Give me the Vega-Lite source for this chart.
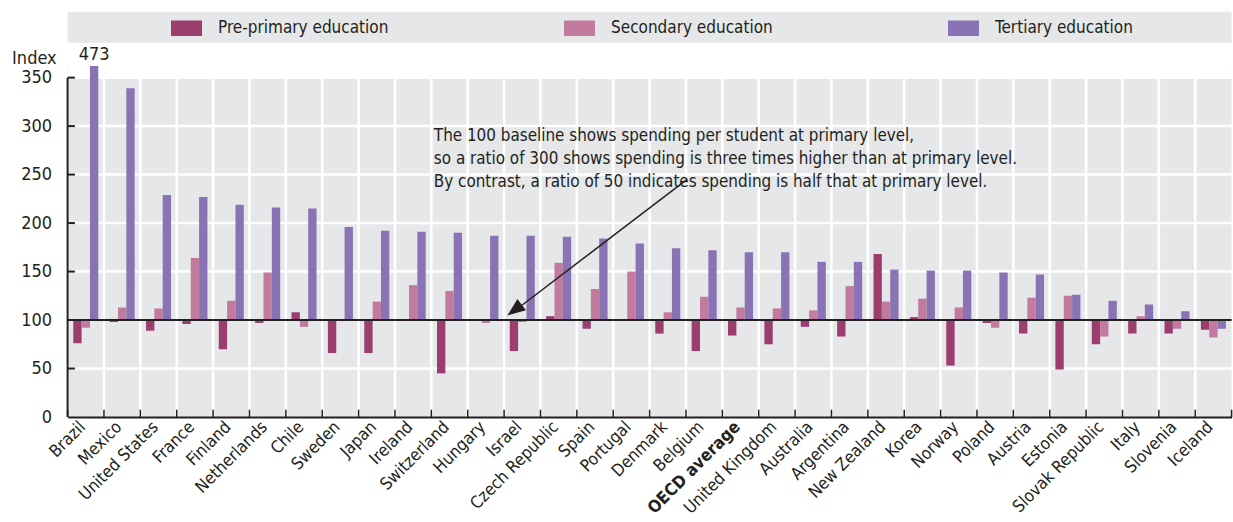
{
  "$schema": "https://vega.github.io/schema/vega-lite/v6.json",
  "width": 1164,
  "height": 351,
  "autosize": {"type": "none"},
  "padding": {"left": 67.6, "top": 66, "right": 1.4, "bottom": 105},
  "background": "white",
  "config": {
    "view": {"fill": "#e6e7e8", "stroke": null},
    "font": "Liberation Sans Narrow, DejaVu Sans Condensed, Liberation Sans, sans-serif",
    "text": {"color": "#231f20"}
  },
  "datasets": {
    "main": [
      {"country": "Brazil", "level": "Pre-primary education", "value": 76},
      {"country": "Brazil", "level": "Secondary education", "value": 92},
      {"country": "Brazil", "level": "Tertiary education", "value": 473},
      {"country": "Mexico", "level": "Pre-primary education", "value": 98},
      {"country": "Mexico", "level": "Secondary education", "value": 113},
      {"country": "Mexico", "level": "Tertiary education", "value": 339},
      {"country": "United States", "level": "Pre-primary education", "value": 89},
      {"country": "United States", "level": "Secondary education", "value": 112},
      {"country": "United States", "level": "Tertiary education", "value": 229},
      {"country": "France", "level": "Pre-primary education", "value": 96},
      {"country": "France", "level": "Secondary education", "value": 164},
      {"country": "France", "level": "Tertiary education", "value": 227},
      {"country": "Finland", "level": "Pre-primary education", "value": 70},
      {"country": "Finland", "level": "Secondary education", "value": 120},
      {"country": "Finland", "level": "Tertiary education", "value": 219},
      {"country": "Netherlands", "level": "Pre-primary education", "value": 97},
      {"country": "Netherlands", "level": "Secondary education", "value": 149},
      {"country": "Netherlands", "level": "Tertiary education", "value": 216},
      {"country": "Chile", "level": "Pre-primary education", "value": 108},
      {"country": "Chile", "level": "Secondary education", "value": 93},
      {"country": "Chile", "level": "Tertiary education", "value": 215},
      {"country": "Sweden", "level": "Pre-primary education", "value": 66},
      {"country": "Sweden", "level": "Secondary education", "value": 101},
      {"country": "Sweden", "level": "Tertiary education", "value": 196},
      {"country": "Japan", "level": "Pre-primary education", "value": 66},
      {"country": "Japan", "level": "Secondary education", "value": 119},
      {"country": "Japan", "level": "Tertiary education", "value": 192},
      {"country": "Ireland", "level": "Secondary education", "value": 136},
      {"country": "Ireland", "level": "Tertiary education", "value": 191},
      {"country": "Switzerland", "level": "Pre-primary education", "value": 45},
      {"country": "Switzerland", "level": "Secondary education", "value": 130},
      {"country": "Switzerland", "level": "Tertiary education", "value": 190},
      {"country": "Hungary", "level": "Pre-primary education", "value": 101},
      {"country": "Hungary", "level": "Secondary education", "value": 97},
      {"country": "Hungary", "level": "Tertiary education", "value": 187},
      {"country": "Israel", "level": "Pre-primary education", "value": 68},
      {"country": "Israel", "level": "Secondary education", "value": 98},
      {"country": "Israel", "level": "Tertiary education", "value": 187},
      {"country": "Czech Republic", "level": "Pre-primary education", "value": 104},
      {"country": "Czech Republic", "level": "Secondary education", "value": 159},
      {"country": "Czech Republic", "level": "Tertiary education", "value": 186},
      {"country": "Spain", "level": "Pre-primary education", "value": 91},
      {"country": "Spain", "level": "Secondary education", "value": 132},
      {"country": "Spain", "level": "Tertiary education", "value": 184},
      {"country": "Portugal", "level": "Secondary education", "value": 150},
      {"country": "Portugal", "level": "Tertiary education", "value": 179},
      {"country": "Denmark", "level": "Pre-primary education", "value": 86},
      {"country": "Denmark", "level": "Secondary education", "value": 108},
      {"country": "Denmark", "level": "Tertiary education", "value": 174},
      {"country": "Belgium", "level": "Pre-primary education", "value": 68},
      {"country": "Belgium", "level": "Secondary education", "value": 124},
      {"country": "Belgium", "level": "Tertiary education", "value": 172},
      {"country": "OECD average", "level": "Pre-primary education", "value": 84},
      {"country": "OECD average", "level": "Secondary education", "value": 113},
      {"country": "OECD average", "level": "Tertiary education", "value": 170},
      {"country": "United Kingdom", "level": "Pre-primary education", "value": 75},
      {"country": "United Kingdom", "level": "Secondary education", "value": 112},
      {"country": "United Kingdom", "level": "Tertiary education", "value": 170},
      {"country": "Australia", "level": "Pre-primary education", "value": 93},
      {"country": "Australia", "level": "Secondary education", "value": 110},
      {"country": "Australia", "level": "Tertiary education", "value": 160},
      {"country": "Argentina", "level": "Pre-primary education", "value": 83},
      {"country": "Argentina", "level": "Secondary education", "value": 135},
      {"country": "Argentina", "level": "Tertiary education", "value": 160},
      {"country": "New Zealand", "level": "Pre-primary education", "value": 168},
      {"country": "New Zealand", "level": "Secondary education", "value": 119},
      {"country": "New Zealand", "level": "Tertiary education", "value": 152},
      {"country": "Korea", "level": "Pre-primary education", "value": 103},
      {"country": "Korea", "level": "Secondary education", "value": 122},
      {"country": "Korea", "level": "Tertiary education", "value": 151},
      {"country": "Norway", "level": "Pre-primary education", "value": 53},
      {"country": "Norway", "level": "Secondary education", "value": 113},
      {"country": "Norway", "level": "Tertiary education", "value": 151},
      {"country": "Poland", "level": "Pre-primary education", "value": 97},
      {"country": "Poland", "level": "Secondary education", "value": 92},
      {"country": "Poland", "level": "Tertiary education", "value": 149},
      {"country": "Austria", "level": "Pre-primary education", "value": 86},
      {"country": "Austria", "level": "Secondary education", "value": 123},
      {"country": "Austria", "level": "Tertiary education", "value": 147},
      {"country": "Estonia", "level": "Pre-primary education", "value": 49},
      {"country": "Estonia", "level": "Secondary education", "value": 125},
      {"country": "Estonia", "level": "Tertiary education", "value": 126},
      {"country": "Slovak Republic", "level": "Pre-primary education", "value": 75},
      {"country": "Slovak Republic", "level": "Secondary education", "value": 83},
      {"country": "Slovak Republic", "level": "Tertiary education", "value": 120},
      {"country": "Italy", "level": "Pre-primary education", "value": 86},
      {"country": "Italy", "level": "Secondary education", "value": 104},
      {"country": "Italy", "level": "Tertiary education", "value": 116},
      {"country": "Slovenia", "level": "Pre-primary education", "value": 86},
      {"country": "Slovenia", "level": "Secondary education", "value": 91},
      {"country": "Slovenia", "level": "Tertiary education", "value": 109},
      {"country": "Iceland", "level": "Pre-primary education", "value": 90},
      {"country": "Iceland", "level": "Secondary education", "value": 82},
      {"country": "Iceland", "level": "Tertiary education", "value": 91}
    ],
    "one": [{}]
  },
  "data": {"name": "main"},
  "layer": [
    {
      "data": {"name": "one"},
      "mark": {"type": "rect", "color": "white"},
      "encoding": {"y": {"datum": 350, "type": "quantitative"}, "y2": {"datum": 362}}
    },
    {
      "data": {"name": "one"},
      "mark": {"type": "rect", "color": "#e6e7e8", "clip": false},
      "encoding": {"y": {"datum": 386, "type": "quantitative"}, "y2": {"datum": 418}}
    },
    {"data": {"name": "one"}, "mark": {"type": "rule", "color": "white", "strokeWidth": 2.5}, "encoding": {"y": {"datum": 50, "type": "quantitative"}}},
    {"data": {"name": "one"}, "mark": {"type": "rule", "color": "white", "strokeWidth": 2.5}, "encoding": {"y": {"datum": 150, "type": "quantitative"}}},
    {"data": {"name": "one"}, "mark": {"type": "rule", "color": "white", "strokeWidth": 2.5}, "encoding": {"y": {"datum": 200, "type": "quantitative"}}},
    {"data": {"name": "one"}, "mark": {"type": "rule", "color": "white", "strokeWidth": 2.5}, "encoding": {"y": {"datum": 250, "type": "quantitative"}}},
    {"data": {"name": "one"}, "mark": {"type": "rule", "color": "white", "strokeWidth": 2.5}, "encoding": {"y": {"datum": 300, "type": "quantitative"}}},
    {"data": {"name": "one"}, "mark": {"type": "rule", "color": "white", "strokeWidth": 2.5}, "encoding": {"y": {"datum": 350, "type": "quantitative"}}},
    {
      "transform": [{"filter": "datum.level === 'Tertiary education'"}],
      "mark": {"type": "rule", "color": "white", "strokeWidth": 2.5},
      "encoding": {
        "x": {"field": "country", "type": "nominal", "sort": null, "bandPosition": 0},
        "y": {"datum": 0, "type": "quantitative"},
        "y2": {"datum": 350}
      }
    },
    {
      "mark": {"type": "bar", "clip": true},
      "encoding": {
        "x": {
          "field": "country",
          "type": "nominal",
          "sort": null,
          "scale": {"paddingInner": 0, "paddingOuter": 0},
          "axis": {
            "title": null,
            "labelAngle": -45,
            "labelAlign": "right",
            "labelBaseline": "middle",
            "labelFontSize": 17,
            "labelColor": "#231f20",
            "labelFontWeight": {"condition": {"test": "datum.value === 'OECD average'", "value": "bold"}, "value": "normal"},
            "labelOffset": -3,
            "ticks": false,
            "labelPadding": 7,
            "grid": false,
            "domain": true,
            "domainColor": "#231f20",
            "domainWidth": 2,
            "zindex": 1
          }
        },
        "xOffset": {
          "field": "level",
          "type": "nominal",
          "scale": {"paddingInner": 0, "paddingOuter": 0.68}
        },
        "y": {
          "field": "value",
          "type": "quantitative",
          "scale": {"domain": [0, 362], "nice": false, "zero": true},
          "axis": {
            "values": [0, 50, 100, 150, 200, 250, 300, 350],
            "title": "Index",
            "titleAngle": 0,
            "titleAlign": "left",
            "titleBaseline": "middle",
            "titleX": -56,
            "titleY": -8,
            "titleFontSize": 18,
            "titleFontWeight": "normal",
            "titleColor": "#231f20",
            "labelFontSize": 18,
            "labelColor": "#231f20",
            "labelPadding": 16,
            "ticks": false,
            "domain": false,
            "grid": false,
            "zindex": 1
          }
        },
        "y2": {"datum": 100},
        "color": {
          "field": "level",
          "type": "nominal",
          "scale": {
            "domain": ["Pre-primary education", "Secondary education", "Tertiary education"],
            "range": ["#9c3d70", "#c27a9f", "#8973b5"]
          },
          "legend": {
            "title": null,
            "orient": "none",
            "direction": "horizontal",
            "legendX": 103.4,
            "legendY": -53.5,
            "symbolType": "M-1,-0.5H1V0.5H-1Z",
            "symbolSize": 961,
            "symbolStrokeWidth": 0,
            "symbolOpacity": 1,
            "labelFontSize": 17,
            "labelColor": "#231f20",
            "labelOffset": 16,
            "columnPadding": 175,
            "labelLimit": 400,
            "padding": 0
          }
        }
      }
    },
    {
      "transform": [{"filter": "datum.level === 'Tertiary education'"}],
      "mark": {"type": "rule", "color": "#231f20", "strokeWidth": 1.5},
      "encoding": {
        "x": {"field": "country", "type": "nominal", "sort": null, "bandPosition": 0},
        "y": {"datum": 0, "type": "quantitative"},
        "y2": {"datum": 7.5}
      }
    },
    {
      "transform": [{"filter": "datum.country === 'Iceland' && datum.level === 'Tertiary education'"}],
      "mark": {"type": "rule", "color": "#231f20", "strokeWidth": 1.5},
      "encoding": {
        "x": {"field": "country", "type": "nominal", "sort": null, "bandPosition": 1},
        "y": {"datum": 0, "type": "quantitative"},
        "y2": {"datum": 7.5}
      }
    },
    {"data": {"name": "one"}, "mark": {"type": "rule", "color": "#231f20", "strokeWidth": 2}, "encoding": {"x": {"datum": "Brazil", "type": "nominal", "bandPosition": 0}, "x2": {"datum": "Brazil", "bandPosition": 0.2}, "y": {"datum": 50, "type": "quantitative"}}},
    {"data": {"name": "one"}, "mark": {"type": "rule", "color": "#231f20", "strokeWidth": 2}, "encoding": {"x": {"datum": "Brazil", "type": "nominal", "bandPosition": 0}, "x2": {"datum": "Brazil", "bandPosition": 0.2}, "y": {"datum": 150, "type": "quantitative"}}},
    {"data": {"name": "one"}, "mark": {"type": "rule", "color": "#231f20", "strokeWidth": 2}, "encoding": {"x": {"datum": "Brazil", "type": "nominal", "bandPosition": 0}, "x2": {"datum": "Brazil", "bandPosition": 0.2}, "y": {"datum": 200, "type": "quantitative"}}},
    {"data": {"name": "one"}, "mark": {"type": "rule", "color": "#231f20", "strokeWidth": 2}, "encoding": {"x": {"datum": "Brazil", "type": "nominal", "bandPosition": 0}, "x2": {"datum": "Brazil", "bandPosition": 0.2}, "y": {"datum": 250, "type": "quantitative"}}},
    {"data": {"name": "one"}, "mark": {"type": "rule", "color": "#231f20", "strokeWidth": 2}, "encoding": {"x": {"datum": "Brazil", "type": "nominal", "bandPosition": 0}, "x2": {"datum": "Brazil", "bandPosition": 0.2}, "y": {"datum": 300, "type": "quantitative"}}},
    {"data": {"name": "one"}, "mark": {"type": "rule", "color": "#231f20", "strokeWidth": 2}, "encoding": {"x": {"datum": "Brazil", "type": "nominal", "bandPosition": 0}, "x2": {"datum": "Brazil", "bandPosition": 0.2}, "y": {"datum": 350, "type": "quantitative"}}},
    {
      "data": {"name": "one"},
      "mark": {"type": "rule", "color": "#231f20", "strokeWidth": 2},
      "encoding": {"y": {"datum": 100, "type": "quantitative"}}
    },
    {
      "transform": [{"filter": "datum.country === 'Brazil' && datum.level === 'Tertiary education'"}],
      "mark": {"type": "rule", "color": "#231f20", "strokeWidth": 2},
      "encoding": {
        "x": {"field": "country", "type": "nominal", "sort": null, "bandPosition": 0},
        "y": {"datum": 0, "type": "quantitative"},
        "y2": {"datum": 350}
      }
    },
    {
      "transform": [{"filter": "datum.value > 362"}],
      "mark": {"type": "text", "fontSize": 18, "baseline": "alphabetic", "dy": -6, "color": "#231f20"},
      "encoding": {
        "x": {"field": "country", "type": "nominal", "sort": null},
        "xOffset": {"field": "level", "type": "nominal"},
        "y": {"datum": 362, "type": "quantitative"},
        "text": {"field": "value", "type": "quantitative"}
      }
    },
    {
      "data": {"name": "one"},
      "mark": {
        "type": "text",
        "align": "left",
        "baseline": "middle",
        "fontSize": 16.9,
        "lineHeight": 23,
        "dx": 2.5,
        "color": "#231f20",
        "text": [
          "The 100 baseline shows spending per student at primary level,",
          "so a ratio of 300 shows spending is three times higher than at primary level.",
          "By contrast, a ratio of 50 indicates spending is half that at primary level."
        ]
      },
      "encoding": {
        "x": {"datum": "Switzerland", "type": "nominal", "bandPosition": 0},
        "y": {"datum": 290, "type": "quantitative"}
      }
    },
    {
      "data": {"name": "one"},
      "mark": {"type": "rule", "color": "#231f20", "strokeWidth": 1.5},
      "encoding": {
        "x": {"datum": "Belgium", "type": "nominal", "bandPosition": 0.03},
        "x2": {"datum": "Israel", "bandPosition": 0.48},
        "y": {"datum": 245, "type": "quantitative"},
        "y2": {"datum": 115}
      }
    },
    {
      "data": {"name": "one"},
      "mark": {
        "type": "point",
        "shape": "M0,-1L0.78,1L-0.78,1Z",
        "size": 324,
        "angle": 232.9,
        "filled": true,
        "opacity": 1,
        "color": "#231f20"
      },
      "encoding": {
        "x": {"datum": "Israel", "type": "nominal", "bandPosition": 0.286},
        "y": {"datum": 110.3, "type": "quantitative"}
      }
    }
  ]
}
